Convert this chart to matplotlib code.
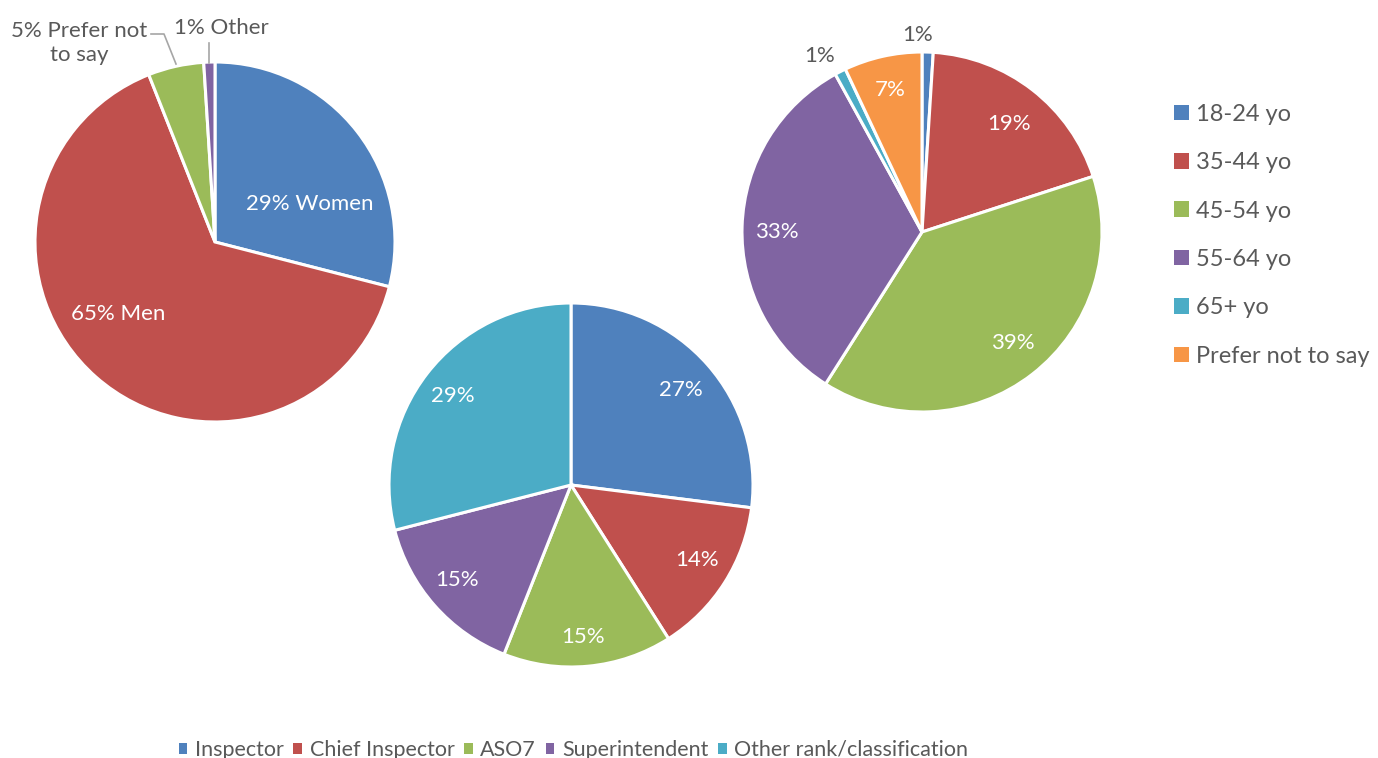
import matplotlib
matplotlib.use("Agg")
import matplotlib.pyplot as plt
from matplotlib.patches import Patch

plt.rcParams['font.family'] = ['Lato', 'DejaVu Sans']

# data
gender_labels = ['Women', 'Men', 'Prefer not to say', 'Other']
gender_values = [29, 65, 5, 1]

rank_labels = ['Inspector', 'Chief Inspector', 'ASO7', 'Superintendent', 'Other rank/classification']
rank_values = [27, 14, 15, 15, 29]

age_labels = ['18-24 yo', '35-44 yo', '45-54 yo', '55-64 yo', '65+ yo', 'Prefer not to say']
age_values = [1, 19, 39, 33, 1, 7]

blue, red, green, purple, aqua, orange = '#4F81BD', '#C0504D', '#9BBB59', '#8064A2', '#4BACC6', '#F79646'
gender_colors = [blue, red, green, purple]
rank_colors = [blue, red, green, purple, aqua]
age_colors = [blue, red, green, purple, aqua, orange]
grey = '#595959'

W, H = 1378, 758
fig = plt.figure(figsize=(W / 100, H / 100), dpi=100)
ax = fig.add_axes([0, 0, 1, 1])


def py(y):
    # pixel row -> data y
    return H - y


wp = dict(edgecolor='white', linewidth=2.2)
ax.pie(gender_values, colors=gender_colors, startangle=90, counterclock=False,
       center=(215, py(242)), radius=180, wedgeprops=wp, frame=True)
ax.pie(rank_values, colors=rank_colors, startangle=90, counterclock=False,
       center=(571, py(485)), radius=182, wedgeprops=wp, frame=True)
ax.pie(age_values, colors=age_colors, startangle=90, counterclock=False,
       center=(922, py(232)), radius=180, wedgeprops=wp, frame=True)

ax.set_xlim(0, W)
ax.set_ylim(0, H)
ax.set_aspect('auto')
ax.axis('off')

fs = 16

# gender labels
ax.text(310, py(204), f'{gender_values[0]}% Women', color='white', fontsize=fs, ha='center', va='center')
ax.text(118, py(314), f'{gender_values[1]}% Men', color='white', fontsize=fs, ha='center', va='center')
ax.text(79, py(43), f'{gender_values[2]}% Prefer not\nto say', color=grey, fontsize=fs,
        ha='center', va='center', linespacing=1.25)
ax.text(221, py(28), f'{gender_values[3]}% Other', color=grey, fontsize=fs, ha='center', va='center')
ax.plot([151, 164, 176], [py(34), py(34), py(64)], color='#A6A6A6', lw=1.2)
ax.plot([209, 209], [py(43), py(63)], color='#A6A6A6', lw=1.2)

# rank labels
rank_pos = [(681, 390), (697, 560), (583, 637), (457, 580), (453, 396)]
for v, (x, y) in zip(rank_values, rank_pos):
    ax.text(x, py(y), f'{v}%', color='white', fontsize=fs, ha='center', va='center')

# age labels
age_pos = [(918, 35), (1009, 124), (1013, 343), (777, 232), (820, 56), (890, 90)]
age_txt = [grey, 'white', 'white', 'white', grey, 'white']
for v, (x, y), c in zip(age_values, age_pos, age_txt):
    ax.text(x, py(y), f'{v}%', color=c, fontsize=fs, ha='center', va='center')

# right legend
h_age = [Patch(facecolor=c, edgecolor='none') for c in age_colors]
fig.legend(h_age, age_labels, loc='upper left', bbox_to_anchor=(1162 / W, 1 - 92 / H),
           frameon=False, fontsize=17, labelcolor=grey, handlelength=0.64, handleheight=0.64,
           handletextpad=0.3, labelspacing=1.16, borderpad=0)

# bottom legend
h_rank = [Patch(facecolor=c, edgecolor='none') for c in rank_colors]
fig.legend(h_rank, rank_labels, loc='center left', bbox_to_anchor=(168 / W, 1 - 750 / H),
           ncol=5, frameon=False, fontsize=15.5, labelcolor=grey, handlelength=0.4,
           handleheight=0.4, handletextpad=0.35, columnspacing=0.45, borderpad=0)

fig.savefig('out.png', dpi=100)
